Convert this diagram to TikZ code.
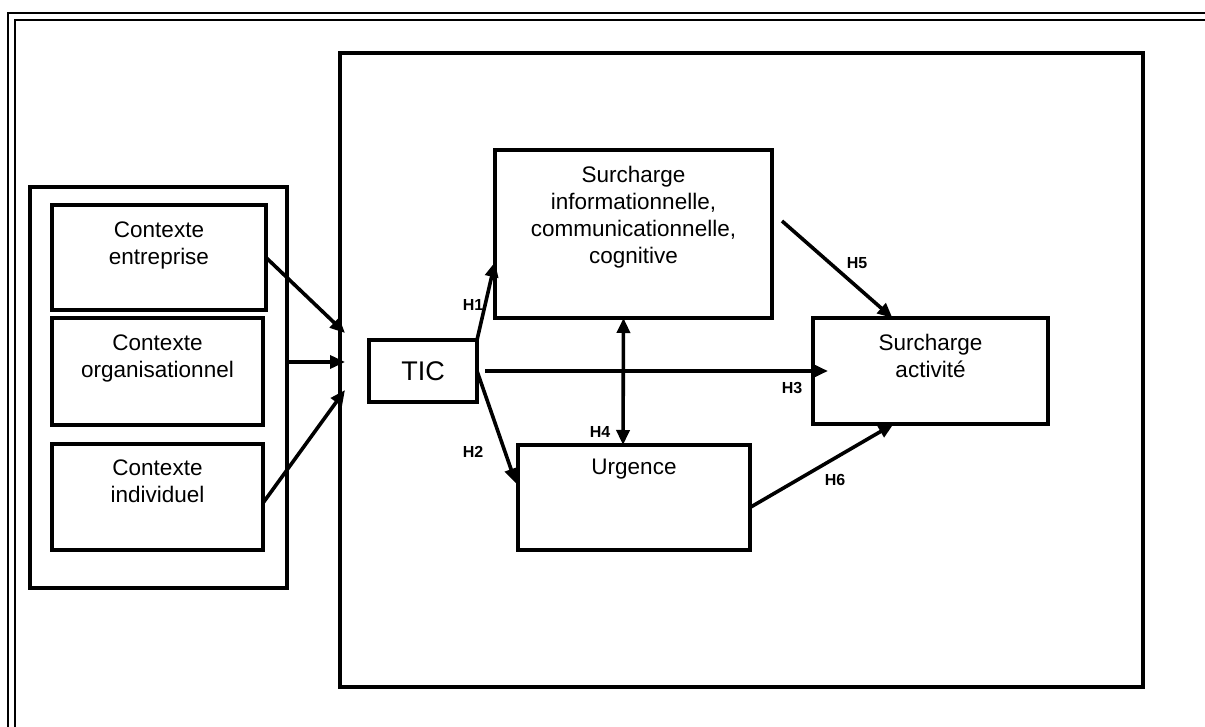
\documentclass[tikz,border=0pt]{standalone}
\usepackage{fontspec}
\setmainfont{Liberation Sans}
\usetikzlibrary{arrows.meta}

\tikzset{
    box/.style={draw, line width=4.2pt, inner sep=0pt, outer sep=0pt},
    boxtext/.style={anchor=north, align=center, inner sep=0pt, font=\fontsize{22.5}{27}\selectfont},
    link/.style={line width=3.6pt, -{Triangle[length=15pt,width=13pt]}},
    hyp/.style={font=\bfseries\fontsize{16}{16}\selectfont, inner sep=0pt}
}

\begin{document}
\begin{tikzpicture}[x=1pt,y=-1pt]

    \useasboundingbox (0,0) rectangle (1205,727);

    % Page frame (double line)
    \draw[line width=2.6pt] (8,727) -- (8,13) -- (1205,13);
    \draw[line width=2.6pt] (15,727) -- (15,20) -- (1205,20);

    % Context boxes
    \node[box, minimum width=257, minimum height=401] (contexte) at (158.5,387.5) {};
    \node[box, minimum width=214, minimum height=105] (entreprise) at (159,257.5) {};
    \node[box, minimum width=211, minimum height=107] (organisation) at (157.5,371.5) {};
    \node[box, minimum width=211, minimum height=106] (individu) at (157.5,497) {};
    \node[boxtext] (entreprisetxt) at ([yshift=-17]entreprise.north) {Contexte\\entreprise};
    \node[boxtext] (organisationtxt) at ([yshift=-17]organisation.north) {Contexte\\organisationnel};
    \node[boxtext] (individutxt) at ([yshift=-16]individu.north) {Contexte\\individuel};

    % Model frame and variables
    \node[box, minimum width=803, minimum height=634] (cadre) at (741.5,370) {};
    \node[box, minimum width=108, minimum height=62, font=\fontsize{27}{27}\selectfont] (tic) at (423,371) {TIC};
    \node[box, minimum width=277, minimum height=168] (surcharge) at (633.5,234) {};
    \node[box, minimum width=232, minimum height=105] (urgence) at (634,497.5) {};
    \node[box, minimum width=235, minimum height=106] (activite) at (930.5,371) {};
    \node[boxtext] (surchargetxt) at ([yshift=-16]surcharge.north) {Surcharge\\informationnelle,\\communicationnelle,\\cognitive};
    \node[boxtext] (urgencetxt) at ([yshift=-14]urgence.north) {Urgence};
    \node[boxtext] (activitetxt) at ([yshift=-16]activite.north) {Surcharge\\activit\'e};

    % Context arrows
    \coordinate (inA) at (345,333);
    \coordinate (inB) at (345,362);
    \coordinate (inC) at (345,390);
    \draw[link] (entreprise.east) -- (inA);
    \draw[link] (contexte.east |- inB) -- (inB);
    \draw[link] ([yshift=-6]individu.east) -- (inC);

    % Hypotheses
    \draw[link] (tic.north east) -- ([yshift=56]surcharge.south west);
    \draw[link] (tic.east) -- ([shift={(-2pt,14pt)}]urgence.west);
    \draw[link] ([xshift=8]tic.east) -- ([xshift=15]activite.west);
    \draw[line width=3.6pt, {Triangle[length=15pt,width=13pt]}-{Triangle[length=15pt,width=13pt]}]
        ([xshift=-10]surcharge.south) -- ([xshift=-11]urgence.north);
    \draw[link] ([shift={(10pt,13pt)}]surcharge.east) -- ([xshift=-38]activite.north);
    \draw[link] ([yshift=-10]urgence.east) -- ([xshift=-37]activite.south);

    % Labels
    \node[hyp] (h1) at (473,305) {H1};
    \node[hyp] (h2) at (473,452) {H2};
    \node[hyp] (h3) at (792,388) {H3};
    \node[hyp] (h4) at (600,432) {H4};
    \node[hyp] (h5) at (857,263) {H5};
    \node[hyp] (h6) at (835,480) {H6};

\end{tikzpicture}
\end{document}
